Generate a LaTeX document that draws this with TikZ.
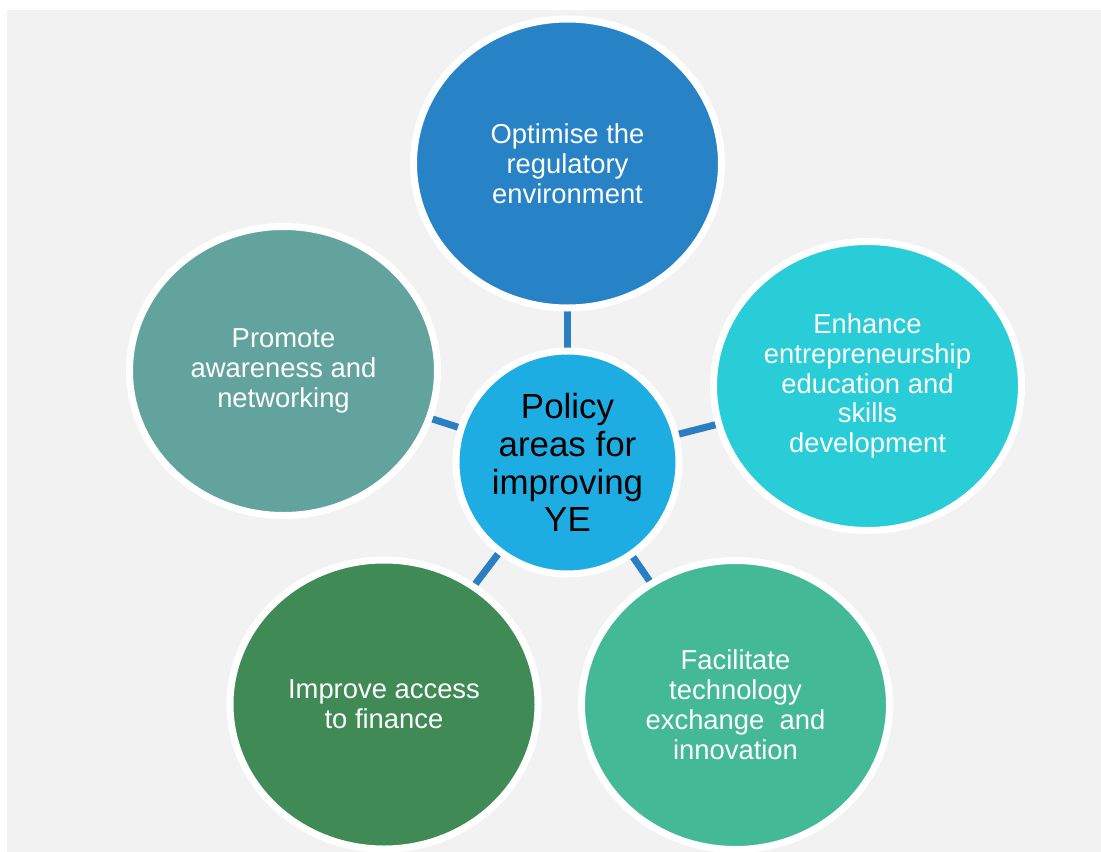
\documentclass[tikz,border=0pt]{standalone}
\usepackage{fontspec}
\setmainfont{Liberation Sans}
\usetikzlibrary{shapes.geometric}
\definecolor{bggray}{HTML}{F2F2F2}
\definecolor{ctop}{HTML}{2882C6}
\definecolor{ccenter}{HTML}{1EADE3}
\definecolor{cright}{HTML}{29CDD8}
\definecolor{cleft}{HTML}{62A39E}
\definecolor{cbl}{HTML}{3F8A55}
\definecolor{cbr}{HTML}{43B995}
\definecolor{clink}{HTML}{2A7FC3}
\pgfdeclarelayer{bglayer}
\pgfdeclarelayer{links}
\pgfsetlayers{bglayer,links,main}
\tikzset{
  area/.style={ellipse, draw=white, line width=7bp, inner sep=0pt,
    minimum width=308bp, minimum height=289bp, text=white, align=center,
    font=\fontsize{27.5}{30}\selectfont},
  hub/.style={circle, draw=white, line width=7bp, fill=ccenter, inner sep=0pt,
    minimum size=223bp, text=black, align=center,
    font=\fontsize{35}{38}\selectfont},
  link/.style={draw=clink, line width=7bp}
}
\begin{document}
\begin{tikzpicture}[x=1bp,y=-1bp]
\begin{pgfonlayer}{bglayer}
\fill[white] (0,0) rectangle (1101,852);
\fill[bggray] (7,10) rectangle (1101,852);
\end{pgfonlayer}
\useasboundingbox (0,0) rectangle (1101,852);
\node[hub] (c) at (567.5,462.5) {Policy\\areas for\\improving\\YE};
\node[area, fill=ctop] (t) at (567.5,163.5) {Optimise the\\regulatory\\environment};
\node[area, fill=cright] (r) at (867.5,386) {Enhance\\entrepreneurship\\education and\\skills\\development};
\node[area, fill=cleft] (l) at (283.5,371) {Promote\\awareness and\\networking};
\node[area, fill=cbl] (bl) at (384,704.5) {Improve access\\to finance};
\node[area, fill=cbr] (br) at (735.5,705) {Facilitate\\technology\\exchange~~and\\innovation};
\begin{pgfonlayer}{links}
\draw[link] (c.center) -- (t.center);
\draw[link] (c.center) -- (r.center);
\draw[link] (c.center) -- (l.center);
\draw[link] (c.center) -- (bl.center);
\draw[link] (c.center) -- (br.center);
\end{pgfonlayer}
\end{tikzpicture}
\end{document}
